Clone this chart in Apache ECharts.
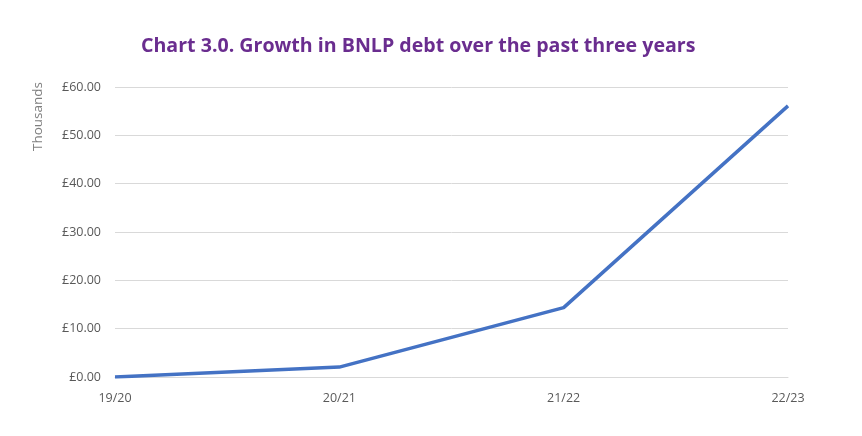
<!DOCTYPE html>
<html><head><meta charset="utf-8">
<script src="https://cdn.jsdelivr.net/npm/echarts@6/dist/echarts.min.js"></script>
<style>html,body{margin:0;padding:0;background:#fff}#c{width:862px;height:436px}</style>
</head><body><div id="c"></div>
<script>
const categories = ['19/20', '20/21', '21/22', '22/23'];
const debtThousands = [0, 2.05, 14.35, 56.1];
const titleText = 'Chart 3.0. Growth in BNLP debt over the past three years';
const yAxisName = 'Thousands';

const chart = echarts.init(document.getElementById('c'));
chart.setOption({
  animation: false,
  title: {
    text: titleText, left: 136, top: 31,
    textStyle: { color: '#6a2d8f', fontSize: 19.6, fontWeight: 'bold', fontFamily: 'Open Sans' }
  },
  graphic: [{
    type: 'text', left: 31, top: 82, rotation: Math.PI / 2,
    style: { text: yAxisName, fill: '#7f7f7f', font: '13.5px "Open Sans"' }
  }],
  grid: { left: 115, right: 74, top: 87, bottom: 59 },
  xAxis: {
    type: 'category', data: categories, boundaryGap: false,
    axisLine: { show: true, lineStyle: { color: '#d9d9d9' } },
    axisTick: { show: false },
    axisLabel: { color: '#595959', fontSize: 12.5, fontFamily: 'Open Sans', margin: 15 }
  },
  yAxis: {
    type: 'value', min: 0, max: 60, interval: 10,
    axisLine: { show: false }, axisTick: { show: false },
    axisLabel: { color: '#595959', fontSize: 12.5, fontFamily: 'Open Sans', margin: 14,
      formatter: v => '£' + v.toFixed(2) },
    splitLine: { lineStyle: { color: '#d9d9d9' } }
  },
  series: [{
    type: 'line', data: debtThousands, showSymbol: false,
    lineStyle: { color: '#4472c4', width: 3.5 }
  }]
});
</script></body></html>
